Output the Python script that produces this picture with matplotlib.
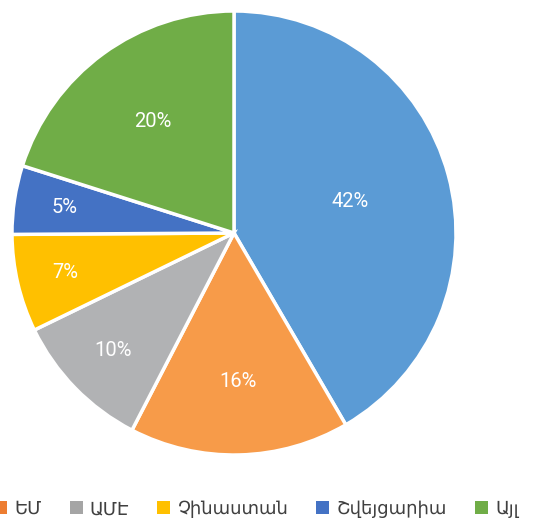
import numpy as np
import matplotlib
matplotlib.use("Agg")
import matplotlib.pyplot as plt
from matplotlib.patches import Patch

categories = ["Ռուսաստան", "ԵՄ", "ԱՄԷ", "Չինաստան", "Շվեյցարիա", "Այլ"]
values = [41.6, 16.0, 10.2, 7.1, 5.0, 20.1]
pie_colors = ["#5B9BD5", "#F79B49", "#B1B2B4", "#FFC000", "#4472C4", "#70AD47"]
legend_colors = ["#5B9BD5", "#ED7D31", "#A5A5A5", "#FFC000", "#4472C4", "#70AD47"]
label_dist = [0.54, 0.67, 0.76, 0.78, 0.77, 0.62]

W, H = 546, 522
fig = plt.figure(figsize=(W / 100, H / 100), dpi=100)
cx, cy, r = 234, 233, 222
ax = fig.add_axes([(cx - r) / W, (H - cy - r) / H, 2 * r / W, 2 * r / H])
wedges, _ = ax.pie(values, colors=pie_colors, startangle=90, counterclock=False,
                   wedgeprops=dict(edgecolor="white", linewidth=2.5))
ax.set_xlim(-1, 1)
ax.set_ylim(-1, 1)
ax.set_aspect("equal")

for w, v, d in zip(wedges, values, label_dist):
    ang = np.deg2rad((w.theta1 + w.theta2) / 2)
    ax.text(d * np.cos(ang), d * np.sin(ang), f"{v:.0f}%", color="white",
            ha="center", va="center", fontsize=14.5, family=["Roboto", "DejaVu Sans"],
            fontweight="normal")

handles = [Patch(facecolor=c, edgecolor="none") for c in legend_colors]
leg_y = 1 - 509 / H
leg = fig.legend(handles, categories, loc="center left", ncol=6,
                 bbox_to_anchor=(0, leg_y), frameon=False,
                 handlelength=0.72, handleheight=0.72,
                 handletextpad=0.4, columnspacing=1.55,
                 prop=dict(family="DejaVu Sans", size=13))
for t in leg.get_texts():
    t.set_color("#404040")

# shift legend so that the second entry's marker right edge sits at x = 8 px
fig.canvas.draw()
renderer = fig.canvas.get_renderer()
hb = leg.legend_handles[1].get_window_extent(renderer)
shift = 7 - hb.x1
leg.set_bbox_to_anchor((shift / W, leg_y), transform=fig.transFigure)

fig.savefig("out.png", dpi=100)
